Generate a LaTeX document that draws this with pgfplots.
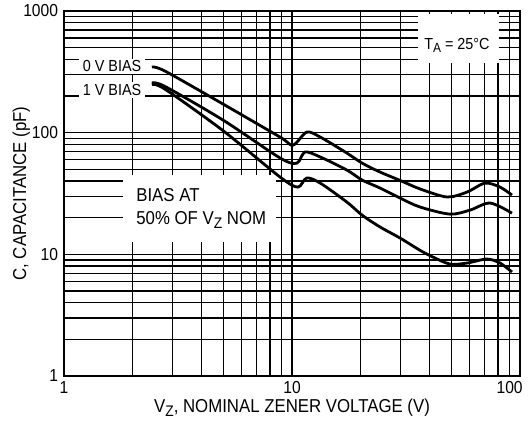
\documentclass[border=0pt]{standalone}
\usepackage{pgfplots}
\pgfplotsset{compat=1.18}
\usepackage{fontspec}
\setmainfont{Liberation Sans}[FakeStretch=0.9]
\begin{document}
\begin{tikzpicture}
\begin{axis}[
  at={(0,0)}, anchor=south west,
  scale only axis, width=342pt, height=273.75pt,
  xmode=log, ymode=log,
  xmin=1, xmax=100, ymin=1, ymax=1000,
  xtick={1,10,100}, xticklabels={1,10,{\kern4pt\llap{100}}},
  ytick={1,10,100,1000}, yticklabels={1,10,100,1000},
  minor xtick={2,3,4,5,6,7,8,9,20,30,40,50,60,70,80,90},
  minor ytick={2,3,4,5,6,7,8,9,20,30,40,50,60,70,80,90,200,300,400,500,600,700,800,900},
  grid=both,
  major grid style={black, line width=1pt},
  minor grid style={black, line width=1pt},
  major tick length=0pt, minor tick length=0pt,
  axis line style={black, line width=1.5pt},
  ticklabel style={font=\fontsize{13}{15}\selectfont},
  xticklabel style={yshift=-0.5pt},
  yticklabel style={xshift=-1pt},
  xlabel={V\raisebox{-0.35ex}{\fontsize{11.5}{13}\selectfont Z}, NOMINAL ZENER VOLTAGE (V)},
  ylabel={C, CAPACITANCE (pF)},
  xlabel style={at={(axis description cs:0.5,0)}, anchor=center, yshift=-24pt, font=\fontsize{14}{16}\selectfont},
  ylabel style={at={(axis description cs:0,0.5)}, anchor=center, yshift=32pt, font=\fontsize{14}{16}\selectfont},
]
% label backgrounds
\fill[white] (axis cs:1.815,12.6) rectangle (axis cs:8.51,44.9);
\fill[white] (axis cs:35.7,373) rectangle (axis cs:80.9,943);
\node[fill=white, inner xsep=3pt, inner ysep=1.5pt, font=\fontsize{12}{14}\selectfont] at (axis cs:1.624,352) {0 V BIAS};
\node[fill=white, inner xsep=3pt, inner ysep=1.5pt, font=\fontsize{12}{14}\selectfont] at (axis cs:1.624,224) {1 V BIAS};
\node[font=\fontsize{12}{14}\selectfont] at (axis cs:52.9,525) {T\raisebox{-0.35ex}{\fontsize{10}{12}\selectfont A} = 25°C};
\node[anchor=west, font=\fontsize{14}{16}\selectfont] at (axis cs:1.98,30.7) {BIAS AT};
\node[anchor=west, font=\fontsize{14}{16}\selectfont] at (axis cs:1.98,19.1) {50\% OF V\raisebox{-0.35ex}{\fontsize{11.5}{13}\selectfont Z} NOM};
% curves
\addplot[black, line width=2.1pt, smooth, tension=0.5] coordinates {
 (2.43,346) (2.77,321) (4.98,172) (8.86,92) (10.1,79) (11.6,101) (13.3,92)
 (17.4,68) (20.3,56.2) (24.3,47.5) (29.8,40.5) (36.4,34.5) (47.9,29.6)
 (58.6,32.5) (70.2,38.5) (81.7,35.7) (92.2,30.7)};
\addplot[black, line width=2.1pt, smooth, tension=0.5] coordinates {
 (2.43,256) (2.77,240) (4.98,127) (8.86,62) (10.5,56.2) (11.4,69.3) (13.3,63.1)
 (17.4,49.3) (20.3,40.8) (24.3,35.1) (29.8,29.0) (36.4,24.5) (49.3,21.4)
 (60.4,23.1) (73.9,26.4) (92.2,21.8)};
\addplot[black, line width=2.1pt, smooth, tension=0.5] coordinates {
 (2.43,248) (2.77,228) (4.98,104) (8.86,43.2) (10.6,35.7) (11.6,42.4) (13.3,38.5)
 (17.4,26.9) (20.3,21.0) (24.3,16.8) (29.8,13.6) (36.4,10.8) (41.5,9.5)
 (49.3,8.32) (58.6,8.48) (71.6,9.15) (81.7,8.48) (92.2,7.16)};
\end{axis}
\pgfresetboundingbox
\path[use as bounding box] (-48pt,-41.25pt) rectangle (348pt,282pt);
\end{tikzpicture}
\end{document}
